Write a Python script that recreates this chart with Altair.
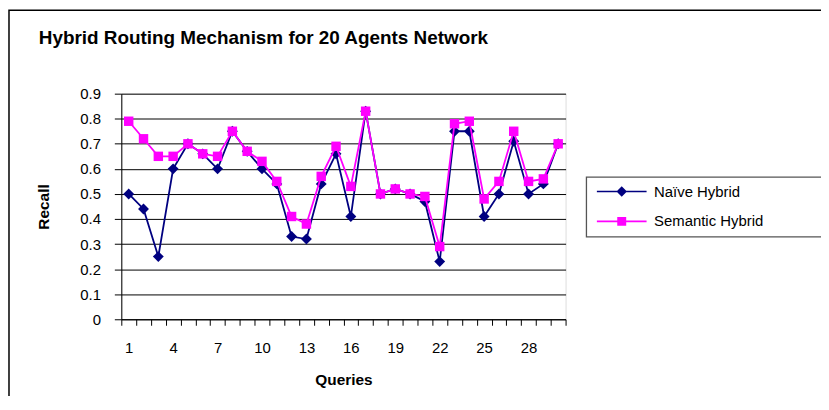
import altair as alt
import pandas as pd

# ---- data ----
queries = list(range(1, 31))
naive = [0.50, 0.44, 0.25, 0.60, 0.70, 0.66, 0.60, 0.75, 0.67, 0.60,
         0.54, 0.33, 0.32, 0.54, 0.66, 0.41, 0.83, 0.50, 0.52, 0.50,
         0.47, 0.23, 0.75, 0.75, 0.41, 0.50, 0.71, 0.50, 0.54, 0.70]
semantic = [0.79, 0.72, 0.65, 0.65, 0.70, 0.66, 0.65, 0.75, 0.67, 0.63,
            0.55, 0.41, 0.38, 0.57, 0.69, 0.53, 0.83, 0.50, 0.52, 0.50,
            0.49, 0.29, 0.78, 0.79, 0.48, 0.55, 0.75, 0.55, 0.56, 0.70]
series_names = ["Naïve Hybrid", "Semantic Hybrid"]
series_colors = ["#000080", "#FF00FF"]
y_ticks = [0, 0.1, 0.2, 0.3, 0.4, 0.5, 0.6, 0.7, 0.8, 0.9]
chart_title = "Hybrid Routing Mechanism for 20 Agents Network"
x_title = "Queries"
y_title = "Recall"

FONT = "Liberation Sans"

rows = []
for q, v in zip(queries, naive):
    rows.append({"query": q, "recall": v, "series": series_names[0]})
for q, v in zip(queries, semantic):
    rows.append({"query": q, "recall": v, "series": series_names[1]})
df = pd.DataFrame(rows)

W, H = 447, 227

x_enc = alt.X(
    "query:O",
    scale=alt.Scale(type="band", paddingInner=0, paddingOuter=0),
    axis=alt.Axis(
        title=x_title,
        tickBand="extent",
        labelAngle=0,
        labelExpr="(datum.value - 1) % 3 == 0 ? datum.label : ''",
        labelOverlap=False,
        labelFont=FONT, labelFontSize=15, labelColor="black",
        labelBaseline="alphabetic", labelPadding=27,
        tickColor="black", tickSize=6, tickWidth=1,
        domainColor="black", domainWidth=1,
        titleFont=FONT, titleFontSize=15.5, titleFontWeight="bold",
        titleColor="black", titleBaseline="alphabetic", titleY=66,
        grid=False,
    ),
)
y_enc = alt.Y(
    "recall:Q",
    scale=alt.Scale(domain=[0, 0.9], nice=False, zero=True),
    axis=alt.Axis(
        title=y_title,
        values=y_ticks,
        labelExpr="datum.value == 0 ? '0' : format(datum.value, '.1f')",
        labelFont=FONT, labelFontSize=15, labelColor="black",
        labelPadding=14, labelFlush=False,
        tickColor="black", tickSize=7, tickWidth=1,
        domainColor="black", domainWidth=1,
        grid=True, gridColor="black", gridWidth=1,
        titleFont=FONT, titleFontSize=15.5, titleFontWeight="bold",
        titleColor="black", titleX=-78, titleY=H / 2,
        titleAngle=-90, titleAlign="center", titleBaseline="middle",
    ),
)

layers = []
marker_shapes = ["diamond", "square"]
marker_sizes = [120, 90]
for name, col, shp, sz in zip(series_names, series_colors, marker_shapes, marker_sizes):
    base = alt.Chart(df).transform_filter(
        alt.FieldEqualPredicate(field="series", equal=name)
    )
    layers.append(
        base.mark_line(strokeWidth=1.8, color=col).encode(x=x_enc, y=y_enc)
    )
    layers.append(
        base.mark_point(filled=True, shape=shp, size=sz, opacity=1, color=col)
        .encode(x=x_enc, y=y_enc)
    )

# legend symbols: a line with the marker in the middle
legend_paths = [
    "M-5,-0.16L5,-0.16L5,0.16L-5,0.16Z M0,-1.05L1.05,0L0,1.05L-1.05,0Z",
    "M-5,-0.16L5,-0.16L5,0.16L-5,0.16Z M-0.9,-0.9L0.9,-0.9L0.9,0.9L-0.9,0.9Z",
]
legend_def = alt.Legend(
    title=None, orient="none", legendX=496, legendY=91,
    symbolSize=100, symbolStrokeWidth=0, symbolOpacity=1,
    labelFont=FONT, labelFontSize=15, labelColor="black",
    labelOffset=25, rowPadding=14, padding=0,
)
legend_layer = alt.Chart(df).mark_point(
    filled=True, opacity=1
).encode(
    x=x_enc, y=y_enc,
    color=alt.Color("series:N",
                    scale=alt.Scale(domain=series_names, range=series_colors),
                    legend=legend_def),
    shape=alt.Shape("series:N",
                    scale=alt.Scale(domain=series_names, range=legend_paths),
                    legend=legend_def),
    size=alt.value(0),
)

one = pd.DataFrame({"k": [0]})
# legend frame box
legend_box = alt.Chart(one).mark_rect(
    fill="white", stroke="#555555", strokeWidth=1.3
).encode(
    x=alt.value(468), x2=alt.value(730), y=alt.value(84), y2=alt.value(144)
)
# outer chart border
outer_box = alt.Chart(one).mark_rect(
    fill=None, stroke="black", strokeWidth=1.5
).encode(
    x=alt.value(-113), x2=alt.value(720), y=alt.value(-84), y2=alt.value(330)
)

chart = alt.layer(outer_box, legend_box, legend_layer, *layers).properties(
    width=W, height=H,
    padding={"left": 114, "top": 85, "right": 257, "bottom": 76},
    autosize=alt.AutoSizeParams(type="none"),
    title=alt.TitleParams(
        text=chart_title, anchor="start", frame="group",
        font=FONT, fontSize=19, fontWeight="bold", color="black",
        dx=-83, offset=0, baseline="alphabetic", dy=54,
    ),
).configure_view(
    fill="#C0C0C0", stroke="#808080", strokeWidth=1
).configure(background="white")

chart.save("out.html", embed_options={"renderer": "svg", "actions": False})
